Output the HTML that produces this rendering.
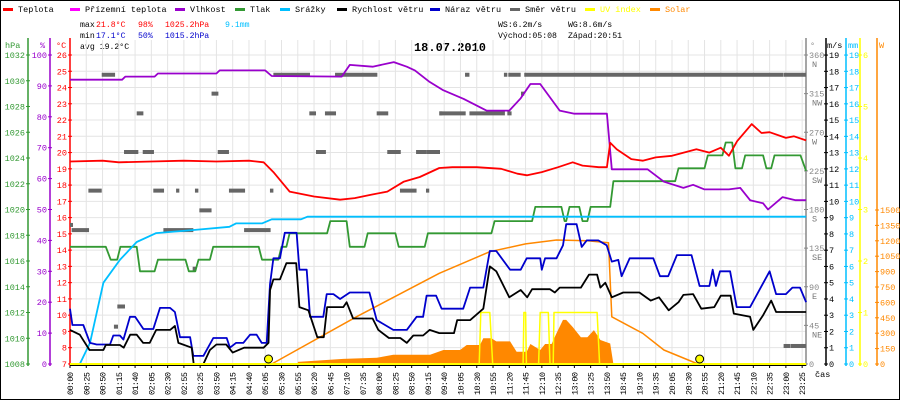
<!DOCTYPE html>
<html><head><meta charset="utf-8"><style>
html,body{margin:0;padding:0;background:#fff}
svg{display:block;font-family:"Liberation Mono",monospace}
</style></head><body>
<svg id="chart" width="900" height="400" viewBox="0 0 900 400">
<rect x="0.5" y="0.5" width="899" height="399" fill="#fff" stroke="#000"/>
<g id="legend" font-size="8.5"></g>
<g font-size="8.2">
<text x="80" y="27" fill="#000">max</text><text x="96" y="27" fill="#f00">21.8°C</text><text x="138" y="27" fill="#f00">98%</text><text x="165" y="27" fill="#f00">1025.2hPa</text><text x="225" y="27" fill="#00bfff">9.1mm</text>
<text x="80" y="38" fill="#000">min</text><text x="96" y="38" fill="#00c">17.1°C</text><text x="138" y="38" fill="#00c">50%</text><text x="165" y="38" fill="#00c">1015.2hPa</text>
<text x="80" y="49" fill="#000">avg 19.2°C</text>
<text x="498" y="27">WS:6.2m/s</text><text x="568" y="27">WG:8.6m/s</text>
<text x="498" y="38">Východ:05:08</text><text x="568" y="38">Západ:20:51</text>
</g>
<text x="450" y="51" text-anchor="middle" font-size="12" font-weight="bold">18.07.2010</text>
<g id="grid"></g>
<g id="axes" font-size="8.5"></g>
<g id="series"></g>
<g id="xlabels" font-size="8.5"></g>
<text x="815" y="377" font-size="8.5">čas</text>
</svg>
<script>
const xLabels=["00:00","00:25","00:50","01:15","01:40","02:05","02:30","02:55","03:25","03:50","04:15","04:40","05:05","05:30","05:55","06:20","06:45","07:10","07:35","08:00","08:25","08:50","09:15","09:40","10:05","10:30","10:55","11:20","11:45","12:10","12:35","13:00","13:25","13:50","18:45","19:10","19:35","20:05","20:30","20:55","21:20","21:45","22:10","22:35","23:00","23:25"];
const tempT=[0,2,3,5,7,9,11,11.9,12.5,13.5,15,16.6,17.5,18.5,19.5,20.5,21.5,22.7,23.5,25,26.5,27.5,28.1,29,30,30.9,31.5,32.5,33,33.2,33.6,34.5,35.2,36,37,38.5,39.3,40,40.5,41,41.9,42.5,43,44,44.5,45.24];
const tempV=[19.45,19.5,19.4,19.45,19.5,19.45,19.5,19.4,18.8,17.6,17.3,17.1,17.2,17.4,17.6,18.2,18.5,19.05,19.1,19.1,19.0,18.7,18.6,18.8,19.1,19.4,19.2,19.1,19.1,20.6,20.2,19.6,19.5,19.7,19.8,20.2,20.0,20.3,19.8,20.7,21.75,21.2,21.25,20.9,21.0,20.75];
const humT=[0,3.2,3.4,5.2,5.4,9,9.2,12,12.4,16.7,17.2,18.6,19.9,20.7,21.2,22.1,22.9,24.2,25.6,27,27.7,28.3,28.9,30.1,31,33,33.3,35.5,36.5,37.7,38.3,39,40.5,41.2,41.8,42.6,42.9,43.8,44.6,45.24];
const humV=[92,92,93,93,94,94,95,95,93.2,93,96.8,96.2,97.7,96.2,95,91.3,88.7,85.8,82,82,86,90.6,90.6,82,81,81,63,63,59,57,58,56.5,56.5,57,53,52,50,54,53,53];
const presT=[0,2.2,2.5,2.9,3.1,4.1,4.3,5.2,5.4,7.1,7.3,7.7,7.9,8.6,8.8,11.6,11.8,12.8,13.0,13.3,13.5,15.8,16.0,17.0,17.2,18.1,18.3,20.0,20.2,21.8,22.0,25.9,26.1,28.4,28.6,30.2,30.4,30.5,30.7,31.3,31.5,31.8,32.0,33.2,33.4,37.2,37.4,39.0,39.2,40.1,40.3,40.7,40.9,41.3,41.5,42.6,42.8,43.1,43.3,44.9,45.24];
const presV=[1017.1,1017.1,1016.1,1016.1,1017.1,1017.1,1015.2,1015.2,1016.1,1016.1,1015.2,1015.2,1016.1,1016.1,1017.1,1017.1,1016.1,1016.1,1017.1,1017.1,1018.15,1018.15,1019.1,1019.1,1017.1,1017.1,1018.15,1018.15,1017.1,1017.1,1018.15,1018.15,1019.1,1019.1,1020.2,1020.2,1019.1,1019.1,1020.2,1020.2,1019.1,1019.1,1020.2,1020.2,1022.2,1022.2,1023.2,1023.2,1024.2,1024.2,1025.2,1025.2,1023.2,1023.2,1024.2,1024.2,1023.2,1023.2,1024.2,1024.2,1023.0];
const rainT=[0.6,1.23,2.05,3.07,4.1,5.3,7.6,9.8,10.2,11.8,12.4,14.2,14.6,45.24];
const rainV=[0,1.3,5,6.4,7.5,8.05,8.24,8.44,8.65,8.65,8.9,8.9,9.06,9.06];
const windT=[0,0.6,1.2,2.05,2.2,3.07,3.3,3.7,4.1,4.5,4.9,5.3,6.15,6.45,6.66,7.48,7.6,8.2,8.6,9.0,9.6,10.0,10.7,11.9,12.2,12.3,12.5,12.9,13.3,13.9,14.1,14.65,15.2,15.6,15.8,16.8,17.0,17.4,18.6,18.95,19.6,20.3,20.7,21.1,21.7,22.1,22.7,23.6,23.8,24.6,25.4,25.8,26.2,27.0,27.7,28.1,28.4,29.5,29.8,30.1,31.4,31.9,32.4,32.6,32.9,33.3,34.0,35.0,35.7,36.2,36.8,37.4,37.7,38.3,38.8,39.6,40.0,40.6,40.8,41.8,42.0,42.6,43.1,43.4,45.24];
const windV=[2.1,1.8,0.86,0.86,1.17,1.17,1.0,1.8,1.8,1.3,1.3,2.1,2.1,2.34,1.3,1.0,0,0,0.86,1.2,1.2,0.7,1.0,1.0,1.3,4.55,5.2,5.2,6.2,6.2,3.5,3.3,1.65,1.65,3.5,3.5,3.8,2.8,2.8,2.1,1.6,1.6,1.3,1.75,1.75,2.1,1.9,1.9,2.7,2.7,3.4,6.0,5.7,4.1,4.55,4.1,4.6,4.6,4.4,4.7,4.7,5.5,5.5,4.7,5.0,4.1,4.4,4.4,3.9,4.1,3.3,3.8,4.25,4.3,3.4,3.5,4.2,4.2,3.1,2.9,2.1,3.0,3.9,3.2,3.2];
const gustT=[0,0.15,0.82,1.23,1.64,2.46,2.66,3.07,3.28,3.69,4.0,4.51,5.12,5.53,6.15,6.45,6.76,7.38,7.58,8.2,8.81,9.63,9.83,10.2,10.65,11.07,11.47,11.78,12.09,12.29,12.5,12.9,13.2,13.93,14.1,14.55,14.75,15.57,15.78,16.19,16.6,17.2,18.4,18.85,19.87,20.7,21.3,21.7,21.92,22.5,22.84,24.17,24.59,25.4,25.8,26.2,27.05,27.7,28.07,28.9,29.0,29.2,29.9,30.3,30.5,31.14,31.45,31.76,32.47,32.99,33.3,33.7,33.9,34.4,35.85,36.26,36.77,37.3,38.2,38.7,39.3,39.5,39.7,39.95,40.57,40.98,41.8,43.0,43.4,44.0,44.4,44.87,45.24];
const gustV=[3.4,2.4,2.4,1.3,1.2,1.2,1.75,1.75,1.5,2.9,2.9,2.15,2.15,3.45,3.45,3.2,1.65,1.65,0.5,0.5,1.6,1.6,1.0,1.3,1.3,1.8,1.8,1.3,1.3,4.9,6.5,6.5,8.07,8.07,5.8,5.8,2.9,2.9,4.3,4.3,4.0,4.4,4.4,2.7,2.1,2.1,2.9,2.9,4.2,4.2,3.4,3.4,4.7,4.7,6.95,6.95,5.8,5.8,6.5,6.5,5.8,6.5,6.5,7.3,8.6,8.6,7.2,7.6,7.6,7.3,6.3,6.4,5.4,6.5,6.5,5.4,5.4,6.7,6.7,4.8,4.8,5.8,4.8,5.7,5.7,3.5,3.5,5.7,4.3,4.3,4.7,4.7,3.8];
const solarLineT=[12.4,17.6,22.7,25.8,28,29.9,31.8,33.1,33.3,35.2,36.5,38.6];
const solarLineV=[0,460,883,1094,1170,1208,1200,1181,460,299,136,0];
const solarFillT=[14,16.8,18.85,19.87,22.13,22.95,23.97,24.38,25.2,25.4,25.9,26.2,27.05,27.45,28.07,28.3,28.9,29.2,29.6,29.9,30.3,30.5,30.9,31.4,31.8,32.2,32.6,33.2,33.4];
const solarFillV=[20,50,60,90,90,136,136,185,185,250,250,220,220,120,120,195,136,195,195,300,430,430,360,260,260,330,234,200,0];
const uvT=[0,25.15,25.25,25.8,25.98,27.85,27.9,28.0,28.05,28.8,28.9,29.4,29.5,29.7,29.75,32.4,32.55,45.24];
const uvV=[0,0,1,1,0,0,1,1,0,0,1,1,0,0,1,1,0,0];
const dirStart=[1.95,8.7,4.1,14.71,15.67,18.85,22.7,3.32,4.47,9.08,15.12,19.5,21.27,21.92,1.13,5.12,6.52,7.68,9.77,12.29,20.28,21.88,7.95,0.1,5.74,10.7,0,7.54,2.91,2.7,12.5,16.29,24.28,26.67,26.94,27.92,43.88,27.72,22.7,24.55,26.88,22.13,43.86,44.28];
const dirEnd=[2.77,9.12,4.51,15.12,16.35,19.56,22.74,4.2,5.16,9.77,15.73,20.33,21.92,22.74,1.95,5.78,6.72,7.89,10.76,12.5,21.3,22.08,8.7,1.17,7.58,12.33,0.16,7.74,3.38,2.95,14.75,18.89,24.55,26.88,27.7,43.86,45.24,27.92,24.32,26.73,27.14,22.74,44.26,45.24];
const dirVal=[337,315,292,292,292,292,292,247,247,247,247,247,247,247,202,202,202,202,202,202,202,202,179,156,156,156,162,111,67,43.5,337,337,337,337,337,337,337,315,292,292,292,247,21,21];
const sunT=[12.2,38.7];
const hpaTicks=[1008,1010,1012,1014,1016,1018,1020,1022,1024,1026,1028,1030,1032];
const humTicks=[0,10,20,30,40,50,60,70,80,90,100];
const tempTicks=[7,8,9,10,11,12,13,14,15,16,17,18,19,20,21,22,23,24,25,26];
const dirTicks=[0,45,90,135,180,225,270,315,360];
const dirNames=["","NE","E","SE","S","SW","W","NW","N"];
const msTicks=[0,1,2,3,4,5,6,7,8,9,10,11,12,13,14,15,16,17,18,19];
const uvTicks=[0,1,2,3,4,5,6];
const wTicks=[0,150,300,450,600,750,900,1050,1200,1350,1500];
const legendNames=["Teplota","Přízemní teplota","Vlhkost","Tlak","Srážky","Rychlost větru","Náraz větru","Směr větru","UV index","Solar"];
const legendColors=["#f00","#f0f","#90c","#393","#00bfff","#000","#00c","#666","#ff0","#f80"];
const legendX=[3,70,175,235,280,337,430,510,585,650];

const NS="http://www.w3.org/2000/svg";
const xT=t=>70+t*16.27;
const yC=v=>55+(26-v)*16.26;
const yH=v=>364-v*3.09;
const yP=v=>364-(v-1008)*12.875;
const yS=v=>364-v*16.26;
const yD=v=>364-v*0.8583;
const yU=v=>364-v*51.5;
const yW=v=>364-v*0.10267;
function mk(tag,attrs,parent){const e=document.createElementNS(NS,tag);for(const k in attrs)e.setAttribute(k,attrs[k]);parent.appendChild(e);return e;}
const G=id=>document.getElementById(id);

const lg=G('legend');
legendNames.forEach((n,i)=>{
  const r=mk('rect',{x:legendX[i],y:8,width:10,height:3,fill:legendColors[i]},lg);
  
  
  const t=mk('text',{x:legendX[i]+15,y:12,fill:(i>=8?legendColors[i]:'#000')},lg);
  t.textContent=n;
  
  
});

const gr=G('grid');
xLabels.forEach((l,i)=>{const ln=mk('line',{x1:xT(i),x2:xT(i),y1:40,y2:364,stroke:'#e4e4e4'},gr);

});
tempTicks.forEach(v=>{const ln=mk('line',{x1:70,x2:806,y1:yC(v),y2:yC(v),stroke:'#e4e4e4'},gr);

});

const ax=G('axes');
function vaxis(x,color,ticks,yf,labelSide,fmt,head,headX){
  mk('line',{x1:x,x2:x,y1:38,y2:366,stroke:color,'stroke-width':1.5},ax);
  const h=mk('text',{x:headX,y:48,fill:color},ax);h.textContent=head;
  
  
  ticks.forEach(v=>{
    const y=yf(v);
    mk('line',{x1:x-2,x2:x+2,y1:y,y2:y,stroke:color},ax);
    const t=mk('text',{x:labelSide<0?x-3:x+3,y:y+3,fill:color,'text-anchor':labelSide<0?'end':'start'},ax);
    t.textContent=fmt(v);
    
    
  });
}
vaxis(28,'#393',hpaTicks,yP,-1,v=>v,'hPa',5);
vaxis(50,'#90c',humTicks,yH,-1,v=>v,'%',40);
vaxis(70,'#f00',tempTicks,yC,-1,v=>v,'°C',56);
vaxis(806,'#888',dirTicks,yD,1,v=>v,'°',810);
dirTicks.forEach((v,i)=>{const t=mk('text',{x:812,y:yD(v)+12,fill:'#777'},ax);t.textContent=dirNames[i];

});
vaxis(826,'#000',msTicks,yS,1,v=>v,'m/s',827);
vaxis(846,'#00bfff',msTicks,yS,1,v=>v,'mm',848);
vaxis(860,'#ff0',uvTicks,yU,1,v=>v,'',862);
vaxis(877,'#f80',wTicks,yW,1,v=>v,'W',879);

const se=G('series');
function pathOf(T,V,yf){return T.map((t,i)=>(i?'L':'M')+xT(t).toFixed(1)+' '+yf(V[i]).toFixed(1)).join(' ');}
const fill=mk('path',{d:pathOf(solarFillT,solarFillV,yW)+` L${xT(33.4)} 364 L${xT(14)} 364 Z`,fill:'#f80',stroke:'none'},se);


dirVal.forEach((d,i)=>{const r=mk('rect',{x:xT(dirStart[i]),y:yD(d)-2,width:Math.max(3,xT(dirEnd[i])-xT(dirStart[i])),height:4,fill:'#666'},se);

});
function line(T,V,yf,color,w,name){const p=mk('path',{d:pathOf(T,V,yf),fill:'none',stroke:color,'stroke-width':w,'stroke-linejoin':'round'},se);

}
line(uvT,uvV,yU,'#ff0',1.5,'uv-index-line');
line(solarLineT,solarLineV,yW,'#f80',1.5,'solar-line');
line(presT,presV,yP,'#393',1.8,'pressure-line');
line(rainT,rainV,yS,'#00bfff',1.8,'rain-line');
line(humT,humV,yH,'#90c',1.8,'humidity-line');
line(tempT,tempV,yC,'#f00',1.8,'temperature-line');
line(gustT,gustV,yS,'#00c',1.8,'wind-gust-line');
line(windT,windV,yS,'#000',1.8,'wind-speed-line');
const base=mk('line',{x1:70,x2:806,y1:364,y2:364,stroke:'#ff0','stroke-width':2},se);


const base2=mk('line',{x1:70,x2:806,y1:365.5,y2:365.5,stroke:'#000','stroke-width':1},se);


sunT.forEach(t=>{const c=mk('circle',{cx:xT(t),cy:359,r:4,fill:'#ff0',stroke:'#000'},se);

});

const xl=G('xlabels');
xLabels.forEach((l,i)=>{
  const x=xT(i);
  mk('line',{x1:x,x2:x,y1:366,y2:368,stroke:'#000'},xl);
  const t=mk('text',{x:0,y:0,transform:`translate(${x+3},395) rotate(-90)`,textLength:23},xl);
  t.textContent=l;
  
  
});
</script>
</body></html>
